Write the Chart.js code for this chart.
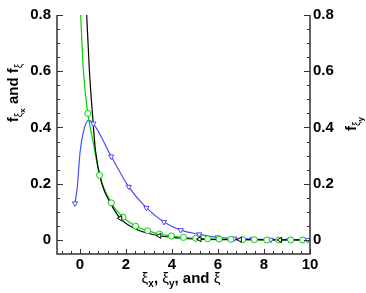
<!DOCTYPE html>
<html lang="en">
<head>
<meta charset="utf-8"/>
<title>Distribution functions f_xi</title>
<script src="https://cdn.jsdelivr.net/npm/chart.js@4.4.3/dist/chart.umd.min.js"></script>
<style>
  html, body { margin: 0; padding: 0; background: #fff; }
</style>
</head>
<body>
<canvas id="fxiChart" width="366" height="293"></canvas>
<script>
  // tick labels
  const xTicks = [0, 2, 4, 6, 8, 10];
  const yTicks = [0, 0.2, 0.4, 0.6, 0.8];

  // f_xi (black, left triangles)
  const blackMarkX = [1.75, 3.45, 5.2, 6.95, 8.7];
  const blackMarkY = [0.077, 0.015, 0.003, 0.001, 0.0];
  const blackLineX = [0.22, 0.29, 0.41, 0.54, 0.67, 0.95, 1.33, 2.5, 4.3, 10];
  const blackLineY = [0.95, 0.8, 0.6, 0.45, 0.32, 0.2, 0.13, 0.036, 0.007, 0.0];

  // f_xi_x (green, circles)
  const greenMarkX = [0.34, 0.85, 1.36, 1.87, 2.42, 2.94, 3.46, 3.97, 4.5, 5.03, 5.55, 6.05, 6.56, 7.07, 7.58, 8.12, 8.64, 9.16, 9.68];
  const greenMarkY = [0.45, 0.23, 0.132, 0.081, 0.049, 0.033, 0.021, 0.014, 0.009, 0.006, 0.004, 0.003, 0.002, 0.001, 0.001, 0, 0, 0, 0];
  const greenLineX = [-0.03, 0.03, 0.15, 0.58, 10];
  const greenLineY = [0.92, 0.8, 0.6, 0.345, 0];

  // f_xi_y (blue, down triangles)
  const blueMarkX = [-0.22, 0.58, 1.36, 2.12, 2.89, 3.65, 4.38, 5.18, 5.98, 6.7, 7.5, 8.3, 9.1, 9.9];
  const blueMarkY = [0.13, 0.414, 0.297, 0.189, 0.114, 0.064, 0.035, 0.02, 0.009, 0.005, 0.003, 0.001, 0, 0];
  const blueLineX = [-0.12, 0, 0.15, 0.36];
  const blueLineY = [0.186, 0.31, 0.385, 0.425];

  const pts = (xs, ys) => xs.map((x, i) => ({ x: x, y: ys[i] }));
  const merged = (ax, ay, bx, by) => pts(ax, ay).concat(pts(bx, by)).sort((a, b) => a.x - b.x);

  const GREEN = '#00d200';
  const BLUE = '#4b4bff';
  const BLACK = '#000000';
  const FONT = '"Liberation Sans", Arial, sans-serif';

  function curve(data, color) {
    return { data: data, showLine: true, borderColor: color, borderWidth: 1.2, pointRadius: 0,
      cubicInterpolationMode: 'monotone', fill: false };
  }
  function marks(data, color, style, rot, r) {
    return { data: data, showLine: false, pointStyle: style, pointRotation: rot, pointRadius: r,
      borderColor: color, backgroundColor: '#fff', pointBorderWidth: 1 };
  }

  // text with subscripts: parts = [text, level, regular]
  function drawParts(ctx, parts, cx, cy, rot) {
    const sizes = [15, 10, 8];
    const shift = [0, 4, 7];
    ctx.save();
    ctx.translate(cx, cy);
    ctx.rotate(rot);
    let total = 0;
    parts.forEach(p => {
      ctx.font = (p[2] ? '' : 'bold ') + sizes[p[1]] + 'px ' + FONT;
      total += ctx.measureText(p[0]).width;
    });
    let x = -total / 2;
    ctx.fillStyle = '#000';
    ctx.textBaseline = 'alphabetic';
    parts.forEach(p => {
      ctx.font = (p[2] ? '' : 'bold ') + sizes[p[1]] + 'px ' + FONT;
      ctx.fillText(p[0], x, 5 + shift[p[1]]);
      x += ctx.measureText(p[0]).width;
    });
    ctx.restore();
  }

  const framePlugin = {
    id: 'frame',
    afterDraw(chart) {
      const ctx = chart.ctx;
      const a = chart.chartArea;
      const xs = chart.scales.x, ys = chart.scales.y;
      ctx.save();
      ctx.strokeStyle = '#333';
      ctx.lineWidth = 1.5;
      ctx.beginPath();
      ctx.moveTo(a.left, a.top); ctx.lineTo(a.left, a.bottom);
      ctx.lineTo(a.right, a.bottom); ctx.lineTo(a.right, a.top);
      ctx.stroke();
      ctx.lineWidth = 1;
      ctx.beginPath();
      for (let k = 0; k <= 16; k++) {
        const py = Math.round(ys.getPixelForValue(k * 0.05)) + 0.5;
        const len = k % 4 === 0 ? 6 : 3;
        ctx.moveTo(a.left, py); ctx.lineTo(a.left + len, py);
        ctx.moveTo(a.right, py); ctx.lineTo(a.right - len, py);
      }
      for (let k = -2; k <= 25; k++) {
        const px = Math.round(xs.getPixelForValue(k * 0.4)) + 0.5;
        const len = k % 5 === 0 ? 5 : 3;
        ctx.moveTo(px, a.bottom); ctx.lineTo(px, a.bottom - len);
      }
      ctx.stroke();
      ctx.restore();

      drawParts(ctx, [['f', 0], ['ξ', 1, 1], ['x', 2], [' and f', 0], ['ξ', 1, 1]], 13, 93, -Math.PI / 2);
      drawParts(ctx, [['f', 0], ['ξ', 1, 1], ['y', 2]], 351, 124, -Math.PI / 2);
      drawParts(ctx, [['ξ', 0, 1], ['x', 1], [', ', 0], ['ξ', 0, 1], ['y', 1], [', and ', 0], ['ξ', 0, 1]], 181, 278, 0);
    }
  };

  const yTickCfg = {
    font: { family: FONT, size: 15, weight: 'bold' }, color: '#000',
    callback: v => String(v)
  };

  new Chart(document.getElementById('fxiChart'), {
    type: 'scatter',
    data: {
      datasets: [
        marks(pts(blackMarkX, blackMarkY), BLACK, 'triangle', -90, 3),
        marks(pts(greenMarkX, greenMarkY), GREEN, 'circle', 0, 3),
        marks(pts(blueMarkX, blueMarkY), BLUE, 'triangle', 180, 3),
        curve(merged(blackLineX, blackLineY, blackMarkX, blackMarkY), BLACK),
        curve(merged(greenLineX, greenLineY, greenMarkX, greenMarkY), GREEN),
        curve(merged(blueLineX, blueLineY, blueMarkX, blueMarkY), BLUE),
      ],
    },
    options: {
      responsive: false,
      animation: false,
      layout: { padding: { top: 11, left: 0, right: 0, bottom: 0 } },
      plugins: { legend: { display: false }, tooltip: { enabled: false } },
      scales: {
        x: {
          type: 'linear', min: -1, max: 10,
          grid: { display: false, drawTicks: false }, border: { display: false },
          afterBuildTicks: s => { s.ticks = xTicks.map(v => ({ value: v })); },
          afterFit: s => { s.height = 39; },
          ticks: { font: { family: FONT, size: 15, weight: 'bold' }, color: '#000', padding: 2, maxRotation: 0 },
        },
        y: {
          type: 'linear', position: 'left', min: -0.05, max: 0.8,
          grid: { display: false, drawTicks: false }, border: { display: false },
          afterBuildTicks: s => { s.ticks = yTicks.map(v => ({ value: v })); },
          afterFit: s => { s.width = 57; },
          ticks: Object.assign({ padding: 6 }, yTickCfg),
        },
        y2: {
          type: 'linear', position: 'right', min: -0.05, max: 0.8,
          grid: { display: false, drawTicks: false }, border: { display: false },
          afterBuildTicks: s => { s.ticks = yTicks.map(v => ({ value: v })); },
          afterFit: s => { s.width = 56; },
          ticks: Object.assign({ padding: 3 }, yTickCfg),
        },
      },
    },
    plugins: [framePlugin],
  });
</script>
</body>
</html>
